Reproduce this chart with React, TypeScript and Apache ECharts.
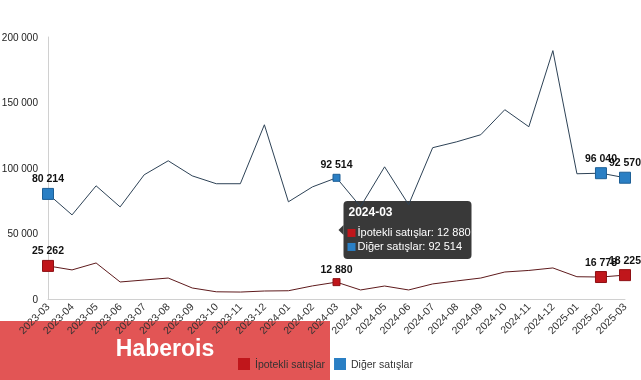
import React, { useEffect, useRef } from "react";
import * as echarts from "echarts";

const categories = [
  "2023-03", "2023-04", "2023-05", "2023-06", "2023-07", "2023-08", "2023-09",
  "2023-10", "2023-11", "2023-12", "2024-01", "2024-02", "2024-03", "2024-04",
  "2024-05", "2024-06", "2024-07", "2024-08", "2024-09", "2024-10", "2024-11",
  "2024-12", "2025-01", "2025-02", "2025-03",
];

const ipotekli = [
  25262, 22200, 27500, 13000, 14500, 16000, 8400, 5500, 5300, 6100, 6300, 10000,
  12880, 6900, 9900, 6900, 11500, 13800, 16000, 20600, 21800, 23700, 17000, 16778, 18225,
];

const diger = [
  80214, 64200, 86400, 70300, 94800, 105500, 94000, 88000, 88000, 133000, 74200, 85600,
  92514, 70500, 100900, 72000, 115500, 120000, 125400, 144500, 131500, 189600, 95600, 96040, 92570,
];

const markedIdx = [0, 12, 23, 24];
const tipIdx = 12;

const seriesNames = ["İpotekli satışlar", "Diğer satışlar"];
const markerColors = ["#c0161b", "#2a7fc4"];
const markerBorders = ["#8e1014", "#1d5f96"];
const lineColors = ["#5e1a1c", "#2d4256"];

const fmt = (v: number) => String(Math.round(v)).replace(/\B(?=(\d{3})+(?!\d))/g, " ");

const LABEL_FONT = "'Liberation Sans Narrow', 'Liberation Sans', Arial, sans-serif";
const FONT = "'Liberation Sans', Arial, sans-serif";

function buildData(values: number[]) {
  return values.map((v, i) =>
    markedIdx.includes(i)
      ? {
          value: v,
          symbol: "rect",
          symbolSize: i === tipIdx ? 7 : 11,
          label: {
            show: true,
            position: "top",
            distance: 4,
            formatter: (p: any) => fmt(p.value),
            fontWeight: "bold",
            fontSize: 10.5,
            color: "#111",
            fontFamily: LABEL_FONT,
          },
        }
      : { value: v, symbol: "none" }
  );
}

export default function App() {
  const ref = useRef<HTMLDivElement>(null);
  useEffect(() => {
    if (!ref.current) return;
    const chart = echarts.init(ref.current, undefined, { renderer: "svg" });
    const series = [ipotekli, diger].map((vals, k) => ({
      name: seriesNames[k],
      type: "line",
      data: buildData(vals),
      symbol: "rect",
      showSymbol: true,
      lineStyle: { color: lineColors[k], width: 1 },
      itemStyle: { color: markerColors[k], borderColor: markerBorders[k], borderWidth: 1 },
      z: k === 1 ? 3 : 2,
    }));
    chart.setOption({
      animation: false,
      textStyle: { fontFamily: FONT },
      grid: { left: 48, right: 16, top: 37, bottom: 81, containLabel: false, outerBoundsMode: "none" },
      legend: {
        bottom: 5,
        left: 233,
        itemWidth: 12,
        itemHeight: 12,
        itemGap: 9,
        icon: "rect",
        textStyle: { fontSize: 10.5, color: "#333", fontFamily: FONT },
        data: seriesNames.map((n, k) => ({ name: n, itemStyle: { color: markerColors[k], borderWidth: 0 } })),
      },
      xAxis: {
        type: "category",
        data: categories,
        boundaryGap: false,
        axisLine: { lineStyle: { color: "#d0d0d0" } },
        axisTick: { show: false },
        axisLabel: { rotate: 45, fontSize: 10.5, color: "#333", margin: 6, interval: 0 },
        splitLine: { show: false },
      },
      yAxis: {
        type: "value",
        min: 0,
        max: 200000,
        interval: 50000,
        axisLine: { show: true, lineStyle: { color: "#d0d0d0" } },
        axisTick: { show: false },
        axisLabel: { fontSize: 10, color: "#222", margin: 10, formatter: (v: number) => fmt(v) },
        splitLine: { show: false },
      },
      series,
    });

    const pBlue = chart.convertToPixel({ seriesIndex: 1 }, [tipIdx, diger[tipIdx]]) as number[];
    const pRed = chart.convertToPixel({ seriesIndex: 0 }, [tipIdx, ipotekli[tipIdx]]) as number[];
    const midY = (pBlue[1] + pRed[1]) / 2;
    const bx = pBlue[0] + 7;
    const bw = 128;
    const bh = 58;
    const by = midY - bh / 2;
    const tipFont = FONT;

    chart.setOption({
      graphic: [
        {
          type: "group",
          z: 100,
          children: [
            {
              type: "rect",
              shape: { x: bx, y: by, width: bw, height: bh, r: 4 },
              style: { fill: "rgba(40,40,40,0.92)" },
            },
            {
              type: "polygon",
              shape: { points: [[bx, midY - 5], [bx - 5, midY], [bx, midY + 5]] },
              style: { fill: "rgba(40,40,40,0.92)" },
            },
            {
              type: "text",
              x: bx + 5,
              y: by + 5,
              style: { text: categories[tipIdx], fill: "#fff", font: `bold 12px ${tipFont}` },
            },
            {
              type: "rect",
              shape: { x: bx + 4, y: by + 28, width: 8, height: 8 },
              style: { fill: markerColors[0] },
            },
            {
              type: "text",
              x: bx + 14,
              y: by + 26,
              style: { text: `${seriesNames[0]}: ${fmt(ipotekli[tipIdx])}`, fill: "#fff", font: `11px ${tipFont}` },
            },
            {
              type: "rect",
              shape: { x: bx + 4, y: by + 42, width: 8, height: 8 },
              style: { fill: markerColors[1] },
            },
            {
              type: "text",
              x: bx + 14,
              y: by + 40,
              style: { text: `${seriesNames[1]}: ${fmt(diger[tipIdx])}`, fill: "#fff", font: `11px ${tipFont}` },
            },
          ],
        },
        {
          type: "group",
          z: 200,
          children: [
            {
              type: "rect",
              shape: { x: 0, y: 321, width: 330, height: 59 },
              style: { fill: "rgba(222,62,62,0.88)" },
            },
            {
              type: "text",
              x: 165,
              y: 348,
              style: {
                text: "Haberois",
                fill: "#fff",
                font: `bold 23px ${FONT}`,
                align: "center",
                verticalAlign: "middle",
              },
            },
          ],
        },
      ],
    });

    return () => chart.dispose();
  }, []);
  return <div ref={ref} style={{ position: "fixed", left: 0, top: 0, width: 641, height: 380 }} />;
}
